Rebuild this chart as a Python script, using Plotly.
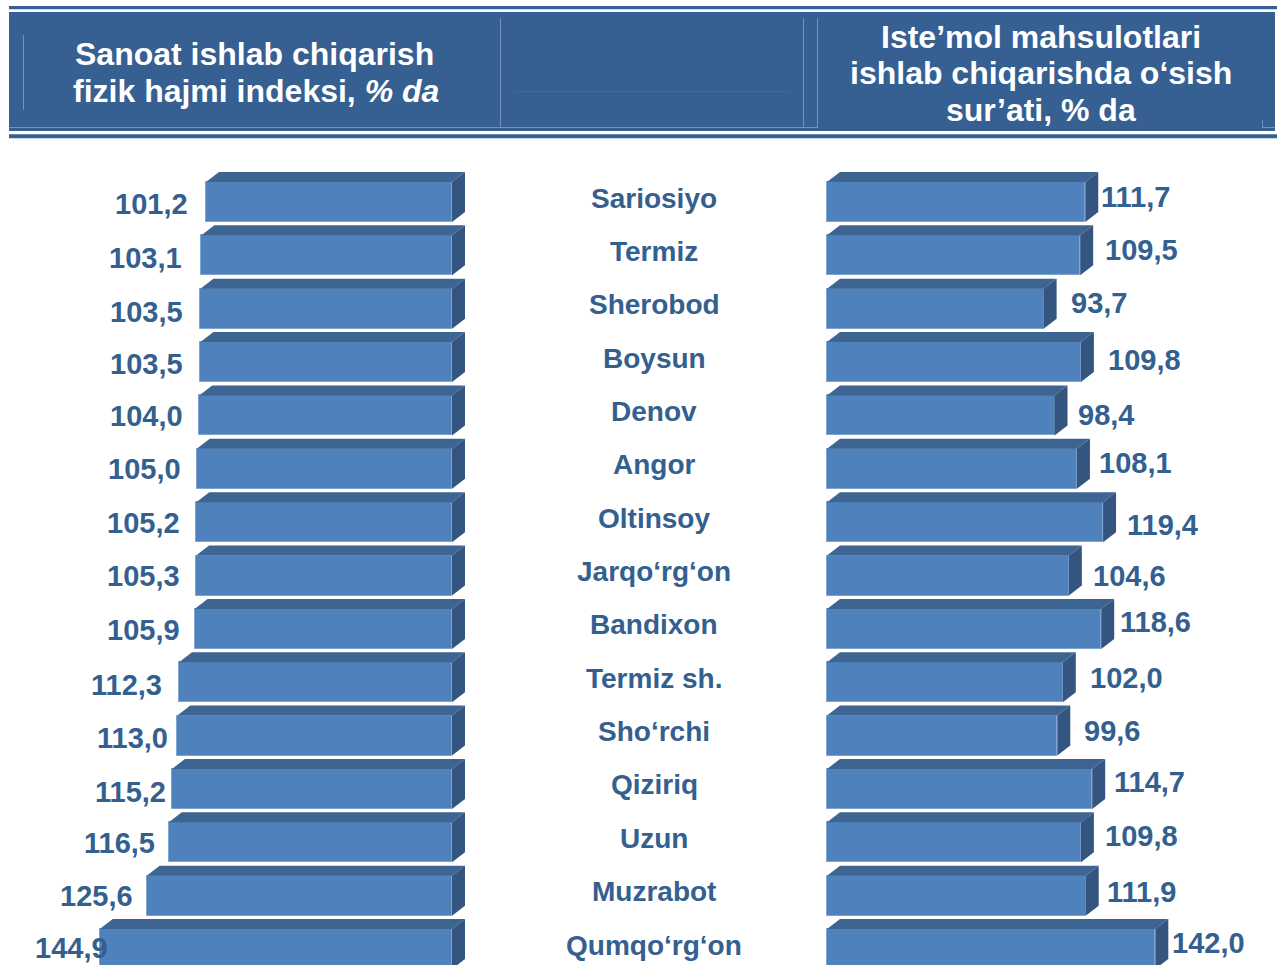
import plotly.graph_objects as go

W, H = 1277, 965

# District names (shown in the centre column, top to bottom)
districts = [
    "Sariosiyo", "Termiz", "Sherobod", "Boysun", "Denov", "Angor", "Oltinsoy",
    "Jarqo‘rg‘on", "Bandixon", "Termiz sh.", "Sho‘rchi", "Qiziriq", "Uzun",
    "Muzrabot", "Qumqo‘rg‘on",
]
# Industrial production physical volume index, %
industry_index = [101.2, 103.1, 103.5, 103.5, 104.0, 105.0, 105.2, 105.3,
                  105.9, 112.3, 113.0, 115.2, 116.5, 125.6, 144.9]
# Consumer goods production growth rate, %
consumer_growth = [111.7, 109.5, 93.7, 109.8, 98.4, 108.1, 119.4, 104.6,
                   118.6, 102.0, 99.6, 114.7, 109.8, 111.9, 142.0]

# Label placement nudges in pixels (hand-placed labels)
left_gap = [18, 19, 17, 17, 16, 16, 16, 16, 15, 17, 9, 6, 14, 14, -8]
left_dy = [2, 3, 3, 2, 1, 0, 1, 0, 1, 3, 2, 3, 1, 0, -1]
right_gap = [3, 12, 14, 14, 10, 9, 11, 11, 6, 14, 14, 9, 11, 8, 4]
right_dy = [-5, -5, -6, -2, 0, -6, 3, 0, -7, -4, -5, -7, -6, -4, -6]
TEXT_PAD = 2  # annotation box padding to compensate for

HEADER_BLUE = "#366092"
TEXT_BLUE = "#34608F"
FRONT = "#4F81BD"
TOP = "#3E6592"
SIDE = "#33557F"
FONT = "Liberation Sans, Arial, sans-serif"

# Pixel geometry of the two bar panels
ROW_PITCH = 53.36          # px per category row
FIRST_ROW_Y = 202          # px, centre of the first row
BAR_PX = 40                # front-face height
DEPTH_X, DEPTH_Y = 13, 10  # 3-D extrusion offset

L_ZERO, L_SCALE = 452, 2.431   # left panel: zero position and px per unit
R_ZERO, R_SCALE = 827, 2.312   # right panel
L_DOM = (0, 480)
R_DOM = (800, W)

n = len(districts)
rows = list(range(n))
bar_w = BAR_PX / ROW_PITCH
dep_y = DEPTH_Y / ROW_PITCH
dep_l = DEPTH_X / L_SCALE
dep_r = DEPTH_X / R_SCALE

y_top = -FIRST_ROW_Y / ROW_PITCH
y_bot = (H - FIRST_ROW_Y) / ROW_PITCH


def px(x):
    return x / W


def py(y):
    return 1 - y / H


fig = go.Figure()

fig.add_trace(go.Bar(
    x=industry_index, y=rows, orientation="h", width=bar_w,
    marker=dict(color=FRONT, line=dict(color="#7FA3D1", width=1)),
    xaxis="x", yaxis="y", hoverinfo="x", showlegend=False,
))
fig.add_trace(go.Bar(
    x=consumer_growth, y=rows, orientation="h", width=bar_w,
    marker=dict(color=FRONT, line=dict(color="#7FA3D1", width=1)),
    xaxis="x2", yaxis="y", hoverinfo="x", showlegend=False,
))

shapes = []
annotations = []
num_font = dict(family=FONT, size=29, color=TEXT_BLUE, weight="bold")


def fmt(v):
    return f"{v:.1f}".replace(".", ",")


for i, v in enumerate(industry_index):
    # left panel is mirrored, so the bar's base (0) carries the side face
    y0 = i - bar_w / 2
    y1 = i + bar_w / 2
    top = (f"M {v},{y0} L {v - dep_l},{y0 - dep_y} "
           f"L {-dep_l},{y0 - dep_y} L 0,{y0} Z")
    side = (f"M 0,{y0} L {-dep_l},{y0 - dep_y} "
            f"L {-dep_l},{y1 - dep_y} L 0,{y1} Z")
    shapes.append(dict(type="path", path=top, xref="x", yref="y",
                       fillcolor=TOP, line=dict(width=0), layer="above"))
    shapes.append(dict(type="path", path=side, xref="x", yref="y",
                       fillcolor=SIDE, line=dict(width=0), layer="above"))
    annotations.append(dict(
        x=v, y=i, xref="x", yref="y", xanchor="right", yanchor="middle",
        xshift=-(left_gap[i] - TEXT_PAD), yshift=-left_dy[i],
        text=fmt(v), showarrow=False, font=num_font,
    ))

for i, v in enumerate(consumer_growth):
    y0 = i - bar_w / 2
    y1 = i + bar_w / 2
    top = (f"M {v},{y0} L {v + dep_r},{y0 - dep_y} "
           f"L {dep_r},{y0 - dep_y} L 0,{y0} Z")
    end = (f"M {v},{y0} L {v + dep_r},{y0 - dep_y} "
           f"L {v + dep_r},{y1 - dep_y} L {v},{y1} Z")
    shapes.append(dict(type="path", path=top, xref="x2", yref="y",
                       fillcolor=TOP, line=dict(width=0), layer="above"))
    shapes.append(dict(type="path", path=end, xref="x2", yref="y",
                       fillcolor=SIDE, line=dict(width=0), layer="above"))
    annotations.append(dict(
        x=v, y=i, xref="x2", yref="y", xanchor="left", yanchor="middle",
        xshift=DEPTH_X + right_gap[i] - TEXT_PAD, yshift=-right_dy[i],
        text=fmt(v), showarrow=False, font=num_font,
    ))

for i, name in enumerate(districts):
    annotations.append(dict(
        x=px(654), y=i, xref="paper", yref="y", xanchor="center",
        yanchor="middle", yshift=4, text=name, showarrow=False,
        font=dict(family=FONT, size=28, color=TEXT_BLUE, weight="bold"),
    ))


# Header band
def rect(x0, y0, x1, y1, color):
    shapes.append(dict(type="rect", xref="paper", yref="paper",
                       x0=px(x0), x1=px(x1), y0=py(y1), y1=py(y0),
                       fillcolor=color, line=dict(width=0), layer="above"))


def seg(x0, y0, x1, y1, color="#7393BC", width=1):
    shapes.append(dict(type="line", xref="paper", yref="paper",
                       x0=px(x0), x1=px(x1), y0=py(y0), y1=py(y1),
                       line=dict(color=color, width=width), layer="above"))


rect(9, 6, W, 9.3, HEADER_BLUE)
rect(9, 12, 1275, 131, HEADER_BLUE)
rect(9, 134.3, W, 138.3, HEADER_BLUE)
seg(23.5, 35, 23.5, 110)
seg(500.5, 18, 500.5, 127)
seg(803.5, 18, 803.5, 127)
seg(817.5, 18, 817.5, 127)
seg(9, 127.5, 818, 127.5)
seg(1262.5, 120, 1262.5, 127)
seg(1262, 127.5, 1275, 127.5)
seg(515, 91.5, 789, 91.5, color="#40689A")

header_font = dict(family=FONT, size=32, color="white", weight="bold")
header_lines = [
    (254, 54, "Sanoat ishlab chiqarish"),
    (256, 91, "fizik hajmi indeksi, <i>% da</i>"),
    (1041, 37, "Iste’mol mahsulotlari"),
    (1041, 73, "ishlab chiqarishda o‘sish"),
    (1041, 110, "sur’ati, % da"),
]
for x, y, t in header_lines:
    annotations.append(dict(
        x=px(x), y=py(y), xref="paper", yref="paper", xanchor="center",
        yanchor="middle", text=t, showarrow=False, font=header_font,
    ))

hidden = dict(visible=False, showgrid=False, zeroline=False, fixedrange=True)
fig.update_layout(
    width=W, height=H,
    margin=dict(l=0, r=0, t=0, b=0),
    paper_bgcolor="white", plot_bgcolor="rgba(0,0,0,0)",
    bargap=0,
    xaxis=dict(hidden, domain=[px(L_DOM[0]), px(L_DOM[1])], anchor="y",
               range=[(L_ZERO - L_DOM[0]) / L_SCALE,
                      -(L_DOM[1] - L_ZERO) / L_SCALE]),
    xaxis2=dict(hidden, domain=[px(R_DOM[0]), px(R_DOM[1])], anchor="y",
                range=[-(R_ZERO - R_DOM[0]) / R_SCALE,
                       (R_DOM[1] - R_ZERO) / R_SCALE]),
    yaxis=dict(hidden, domain=[0, 1], range=[y_bot, y_top]),
    shapes=shapes,
    annotations=annotations,
    showlegend=False,
)

fig.write_html("out.html")
